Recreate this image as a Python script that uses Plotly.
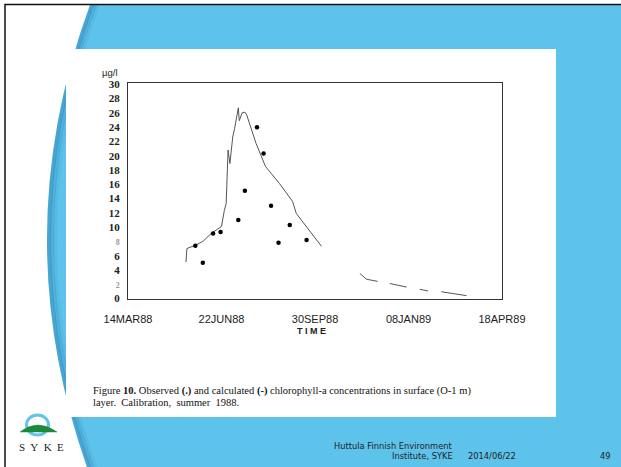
import plotly.graph_objects as go

# ---------------- data ----------------
calc_dates = ["1988-05-15", "1988-05-16", "1988-05-26", "1988-06-02", "1988-06-11",
              "1988-06-22", "1988-06-25", "1988-06-27", "1988-06-29", "1988-07-01",
              "1988-07-04", "1988-07-06", "1988-07-10", "1988-07-11", "1988-07-14",
              "1988-07-17", "1988-07-19", "1988-07-24", "1988-07-29", "1988-08-08",
              "1988-08-23", "1988-09-06", "1988-09-10", "1988-10-07", None,
              "1988-11-17", "1988-11-24", "1988-12-06", None,
              "1988-12-19", "1989-01-06", None,
              "1989-01-20", "1989-01-29", None,
              "1989-02-12", "1989-03-11"]
calc_vals = [5.1, 7.0, 7.5, 8.0, 9.1,
             10.1, 12.3, 13.3, 20.8, 18.9,
             22.6, 23.8, 26.7, 24.9, 26.0,
             26.1, 25.7, 23.8, 21.7, 18.5,
             16.1, 13.6, 11.9, 7.3, None,
             3.5, 2.7, 2.4, None,
             2.1, 1.6, None,
             1.3, 1.05, None,
             0.95, 0.4]

obs_dates = ["1988-05-25", "1988-06-02", "1988-06-13", "1988-06-21", "1988-07-10",
             "1988-07-17", "1988-07-30", "1988-08-06", "1988-08-14", "1988-08-22",
             "1988-09-03", "1988-09-21"]
obs_vals = [7.4, 5.0, 9.1, 9.3, 11.0, 15.1, 24.0, 20.3, 13.0, 7.8, 10.3, 8.2]

x_tickvals = ["1988-03-14", "1988-06-22", "1988-09-30", "1989-01-08", "1989-04-18"]
x_ticktext = ["14MAR88", "22JUN88", "30SEP88", "08JAN89", "18APR89"]
y_tickvals = [0, 2, 4, 6, 8, 10, 12, 14, 16, 18, 20, 22, 24, 26, 28, 30]
y_ticktext = ["0", "<span style='color:#999;font-size:8px'>2</span>", "4", "6",
              "<span style='color:#999;font-size:8px'>8</span>", "10", "12", "14", "16",
              "18", "20", "22", "24", "26", "28", "30"]

# ---------------- geometry helpers (pixel -> paper) ----------------
FW, FH = 621, 467
L, R, T, B = 128, 502, 83, 299
W, H = R - L, B - T


def px(x):
    return (x - L) / W


def py(y):
    return (B - y) / H


def pt(x, y):
    return f"{px(x):.5f},{py(y):.5f}"


BLUE = "#5DC3EB"

shapes = []
# blue slide background with curved left edge
shapes.append(dict(type="path", xref="paper", yref="paper", layer="below",
                   path=f"M {pt(90,5)} Q {pt(5,236)} {pt(88,470)} L {pt(630,470)} L {pt(630,5)} Z",
                   fillcolor=BLUE, line=dict(width=0)))
# darker edge shading along the curve
for off, op in [(0, 0.30), (3, 0.18), (6, 0.08)]:
    shapes.append(dict(type="path", xref="paper", yref="paper", layer="below",
                       path=(f"M {pt(90+off,5)} Q {pt(5+off,236)} {pt(88+off,470)} "
                             f"L {pt(92+off,470)} Q {pt(9+off,236)} {pt(94+off,5)} Z"),
                       fillcolor=f"rgba(20,100,150,{op})", line=dict(width=0)))
# white image box
shapes.append(dict(type="rect", xref="paper", yref="paper", layer="below",
                   x0=px(66), x1=px(556), y0=py(417), y1=py(49),
                   fillcolor="white", line=dict(width=0)))
# slide border
shapes.append(dict(type="rect", xref="paper", yref="paper", layer="above",
                   x0=px(5), x1=px(640), y0=py(480), y1=py(4.5),
                   fillcolor="rgba(0,0,0,0)", line=dict(color="#111", width=1.5)))
# SYKE logo: ring and green hill
shapes.append(dict(type="circle", xref="paper", yref="paper", layer="above",
                   x0=px(26.5), x1=px(48.5), y0=py(435), y1=py(415),
                   fillcolor="white", line=dict(color="#62C4EC", width=3)))
shapes.append(dict(type="path", xref="paper", yref="paper", layer="above",
                   path=f"M {pt(20,432)} Q {pt(37.5,418)} {pt(57,432)} Z",
                   fillcolor="#1B8A3A", line=dict(color="#1B8A3A", width=0.5)))

fig = go.Figure()
fig.add_trace(go.Scatter(x=calc_dates, y=calc_vals, mode="lines",
                         line=dict(color="#555", width=1), connectgaps=False,
                         showlegend=False, hoverinfo="skip"))
fig.add_trace(go.Scatter(x=obs_dates, y=obs_vals, mode="markers",
                         marker=dict(color="#000", size=4.5),
                         showlegend=False, hoverinfo="skip"))

annotations = []


def ann(text, x, y, xanchor="center", size=10, family="Liberation Sans", color="#222"):
    annotations.append(dict(text=text, x=px(x), y=py(y), xref="paper", yref="paper",
                            xanchor=xanchor, yanchor="middle", showarrow=False,
                            font=dict(family=family, size=size, color=color)))


ann("µg/l", 100, 72, xanchor="left", size=9.5)
ann("<b>T I M E</b>", 311, 331, size=9)
ann("Figure <b>10.</b> Observed <b>(.)</b> and calculated <b>(-)</b> chlorophyll-a concentrations in surface (O-1 m)",
    91, 391, xanchor="left", size=10.5, family="Liberation Serif", color="#111")
ann("layer.  Calibration,  summer  1988.", 91, 402, xanchor="left", size=10.5,
    family="Liberation Serif", color="#111")
ann("Huttula Finnish Environment", 455, 446, xanchor="right", size=8.3, family="DejaVu Sans")
ann("Institute, SYKE", 455, 456, xanchor="right", size=8.3, family="DejaVu Sans")
ann("2014/06/22", 466, 456, xanchor="left", size=8.3, family="DejaVu Sans")
ann("49", 605, 456, size=8.3, family="DejaVu Sans")
ann("S&nbsp; Y&nbsp; K&nbsp; E", 41, 447, size=11, family="Liberation Serif", color="#222")

fig.update_layout(
    template="none",
    width=FW, height=FH,
    margin=dict(l=L, r=FW - R, t=T, b=FH - B, pad=0),
    paper_bgcolor="white",
    plot_bgcolor="rgba(0,0,0,0)",
    shapes=shapes,
    annotations=annotations,
    showlegend=False,
    xaxis=dict(type="date", range=["1988-03-14", "1989-04-18"],
               tickvals=x_tickvals, ticktext=x_ticktext,
               showgrid=False, zeroline=False, showline=True, mirror=True,
               linecolor="#333", linewidth=1.2, ticks="", ticklabelstandoff=10,
               tickfont=dict(family="Liberation Sans", size=11, color="#222"),
               automargin=False),
    yaxis=dict(range=[-0.07, 30.18], tickvals=y_tickvals, ticktext=y_ticktext,
               showgrid=False, zeroline=False, showline=True, mirror=True,
               linecolor="#333", linewidth=1.2, ticks="", ticklabelstandoff=5,
               tickfont=dict(family="Liberation Serif", size=11, color="#222", weight="bold"),
               automargin=False),
)

fig.write_html("out.html", config={"displayModeBar": False},
               post_script="document.body.style.margin='0';document.body.style.padding='0';")
